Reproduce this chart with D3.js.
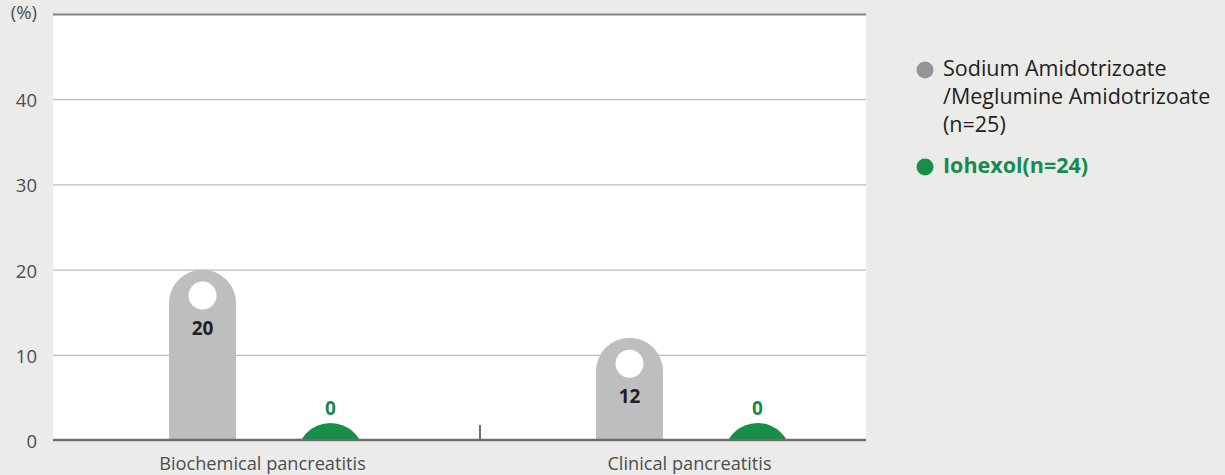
<!DOCTYPE html>
<html><head><meta charset="utf-8">
<script src="https://cdn.jsdelivr.net/npm/d3@7/dist/d3.min.js"></script>
<style>
html,body{margin:0;padding:0;background:#ebebea;}
svg{display:block;font-family:"Open Sans",sans-serif;}
</style></head>
<body><svg id="c" width="1225" height="475"></svg>
<script>
const categories = ["Biochemical pancreatitis", "Clinical pancreatitis"];
const seriesNames = ["Sodium Amidotrizoate\n/Meglumine Amidotrizoate\n(n=25)", "Iohexol(n=24)"];
const sodiumValues = [20, 12];
const iohexolValues = [0, 0];
const yTicks = [0, 10, 20, 30, 40, 50];
const colors = ["#bcbec0", "#178f48"];
const legendColors = ["#939598", "#178f48"];
const labelColors = ["#231f20", "#178a4f"];

const svg = d3.select("#c");
const mLeft = 53, mRight = 866, mTop = 14, mBottom = 440;
const y = d3.scaleLinear().domain([0, 50]).range([mBottom, mTop]);
const x0 = d3.scaleBand().domain(categories).range([mLeft, mLeft + 2 * 427]);
const x1 = d3.scalePoint().domain([0, 1]).range([-64, 64]);
const r = 33.5;

svg.append("rect").attr("x", mLeft).attr("y", mTop).attr("width", mRight - mLeft).attr("height", mBottom - mTop).attr("fill", "#fff");

const yAxis = svg.append("g").attr("transform", `translate(${mLeft},0)`)
  .call(d3.axisLeft(y).tickValues(yTicks).tickSize(-(mRight - mLeft)).tickPadding(16)
    .tickFormat(d => d === 50 ? "(%)" : d));
yAxis.select(".domain").remove();
yAxis.selectAll(".tick line").attr("stroke", d => (d === 50 ? "#808285" : "#a7a9ac"))
  .attr("stroke-width", d => (d === 50 ? 2 : 1));
yAxis.selectAll(".tick text").attr("font-size", 18.5).attr("fill", "#4d4d4f")
  .attr("font-family", "Open Sans").attr("dy", d => d === 50 ? "0.25em" : "0.4em");

svg.append("clipPath").attr("id", "clip").append("rect")
  .attr("x", mLeft).attr("y", mTop).attr("width", mRight - mLeft).attr("height", mBottom - mTop);

const data = categories.map((c, i) => ({ c, vals: [sodiumValues[i], iohexolValues[i]] }));
const g = svg.append("g").attr("clip-path", "url(#clip)");
data.forEach(d => {
  d.vals.forEach((v, s) => {
    const cx = x0(d.c) + x0.bandwidth() / 2 + x1(s);
    const topY = Math.min(y(v), y(0) - 17);
    const cy = topY + r;
    const path = `M${cx - r},${y(0) + r + 5} L${cx - r},${cy} A${r},${r} 0 0 1 ${cx + r},${cy} L${cx + r},${y(0) + r + 5} Z`;
    g.append("path").attr("d", path).attr("fill", colors[s]);
    if (v > 0) {
      svg.append("circle").attr("cx", cx).attr("cy", topY + 26).attr("r", 14).attr("fill", "#fff");
      svg.append("text").attr("x", cx).attr("y", topY + 65).attr("text-anchor", "middle")
        .attr("font-size", 19).attr("font-weight", "bold").attr("fill", labelColors[s]).text(v);
    } else {
      svg.append("text").attr("x", cx).attr("y", topY - 8).attr("text-anchor", "middle")
        .attr("font-size", 19).attr("font-weight", "bold").attr("fill", labelColors[s]).text(v);
    }
  });
});

svg.append("line").attr("x1", mLeft).attr("x2", mRight).attr("y1", mBottom).attr("y2", mBottom)
  .attr("stroke", "#6d6e71").attr("stroke-width", 2.5);
svg.append("line").attr("x1", x0(categories[1])).attr("x2", x0(categories[1]))
  .attr("y1", mBottom - 15).attr("y2", mBottom).attr("stroke", "#6d6e71").attr("stroke-width", 2);
svg.selectAll(".cat").data(categories).join("text").attr("class", "cat")
  .attr("x", d => x0(d) + x0.bandwidth() / 2 - 4).attr("y", 470).attr("text-anchor", "middle")
  .attr("font-size", 18.2).attr("fill", "#4d4d4f").text(d => d);

const leg = svg.append("g");
const legY = [70, 167];
seriesNames.forEach((n, i) => {
  leg.append("circle").attr("cx", 925).attr("cy", legY[i]).attr("r", 8.5).attr("fill", legendColors[i]);
  const t = leg.append("text").attr("x", 943).attr("y", legY[i] + 6).attr("font-size", 21.5)
    .attr("fill", i === 0 ? "#231f20" : "#178a4f").attr("font-weight", i === 0 ? "normal" : "bold");
  n.split("\n").forEach((line, j) => {
    t.append("tspan").attr("x", 943).attr("dy", j === 0 ? 0 : 28).text(line);
  });
});
</script></body></html>
